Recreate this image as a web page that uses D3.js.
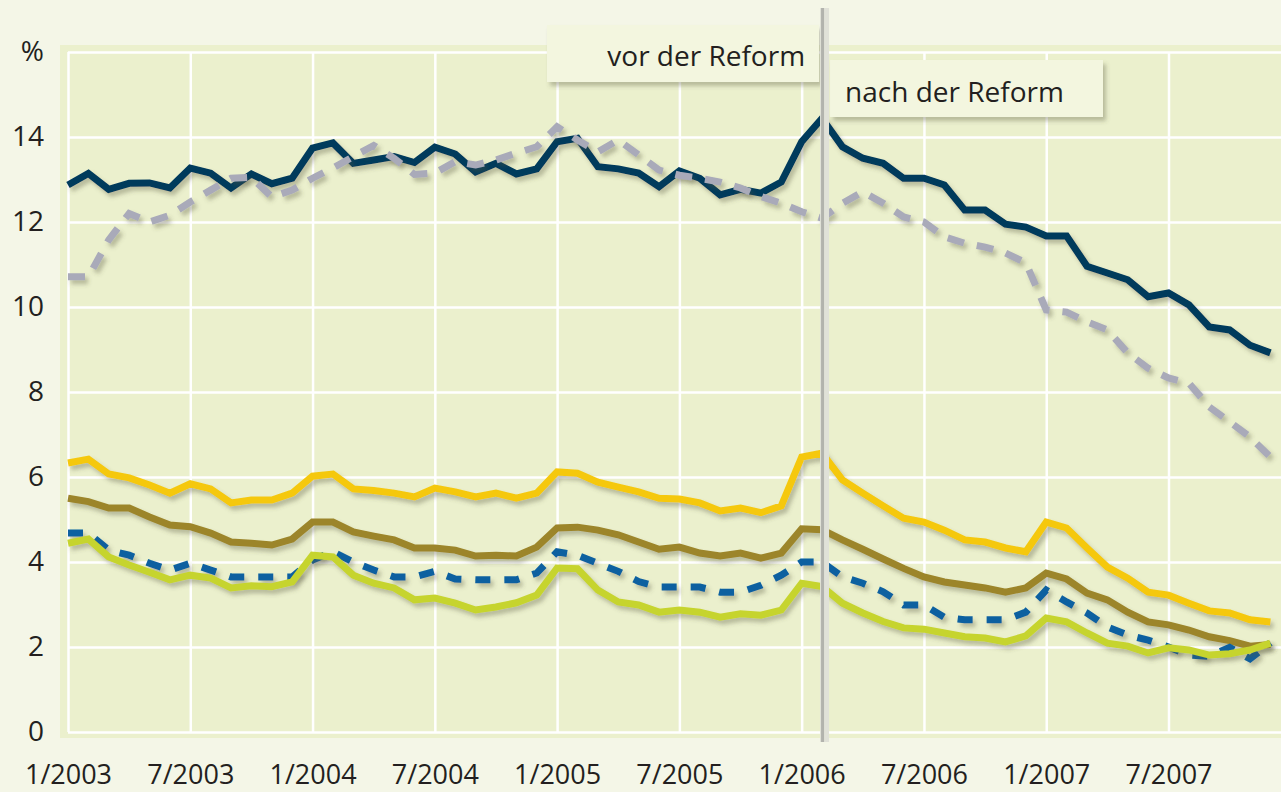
<!DOCTYPE html>
<html>
<head>
<meta charset="utf-8">
<script src="https://cdn.jsdelivr.net/npm/d3@7"></script>
<style>
  body { margin: 0; background: #f4f6e7; }
  svg { display: block; font-family: "Open Sans", sans-serif; }
</style>
</head>
<body>
<svg id="chart"></svg>
<script>
// months 1/2003 .. 12/2007 (index 0..59)
const months = d3.range(60);
const tickMonths = [0, 6, 12, 18, 24, 30, 36, 42, 48, 54];
const tickLabels = ["1/2003", "7/2003", "1/2004", "7/2004", "1/2005", "7/2005", "1/2006", "7/2006", "1/2007", "7/2007"];
const yTicks = [0, 2, 4, 6, 8, 10, 12, 14, 16];
const reformMonth = 37; // 2/2006
const labelBefore = "vor der Reform";
const labelAfter = "nach der Reform";

// series values in %
const navySeries = [12.87, 13.14, 12.77, 12.91, 12.92, 12.8, 13.27, 13.15, 12.8, 13.13,
  12.9, 13.03, 13.74, 13.86, 13.38, 13.46, 13.54, 13.4, 13.76, 13.6,
  13.18, 13.38, 13.13, 13.25, 13.89, 13.97, 13.3, 13.25, 13.15, 12.83,
  13.2, 13.03, 12.64, 12.77, 12.68, 12.94, 13.89, 14.44, 13.77, 13.5,
  13.38, 13.03, 13.03, 12.87, 12.28, 12.28, 11.95, 11.88, 11.67, 11.67,
  10.96, 10.8, 10.64, 10.24, 10.33, 10.05, 9.53, 9.46, 9.1, 8.92];

const graySeries = [10.71, 10.71, 11.58, 12.2, 12.0, 12.16, 12.47, 12.75, 13.03, 13.05,
  12.59, 12.75, 13.03, 13.27, 13.54, 13.8, 13.5, 13.12, 13.15, 13.42,
  13.34, 13.46, 13.62, 13.77, 14.24, 13.93, 13.65, 13.93, 13.58, 13.22,
  13.1, 13.03, 12.94, 12.8, 12.6, 12.44, 12.24, 12.09, 12.44, 12.71,
  12.44, 12.12, 12.0, 11.65, 11.5, 11.41, 11.27, 11.04, 9.93, 9.88,
  9.65, 9.46, 8.92, 8.56, 8.33, 8.21, 7.65, 7.3, 6.94, 6.47];

const yellowSeries = [6.33, 6.42, 6.07, 5.98, 5.81, 5.62, 5.84, 5.72, 5.39, 5.46,
  5.46, 5.62, 6.02, 6.07, 5.72, 5.68, 5.62, 5.53, 5.74, 5.65,
  5.53, 5.62, 5.5, 5.62, 6.12, 6.09, 5.88, 5.76, 5.65, 5.5,
  5.48, 5.39, 5.2, 5.27, 5.16, 5.32, 6.47, 6.56, 5.93, 5.62,
  5.32, 5.03, 4.94, 4.75, 4.52, 4.47, 4.33, 4.24, 4.94, 4.8,
  4.33, 3.88, 3.62, 3.29, 3.22, 3.03, 2.85, 2.8, 2.64, 2.59];

const oliveSeries = [5.5, 5.42, 5.27, 5.27, 5.06, 4.87, 4.83, 4.68, 4.47, 4.44,
  4.4, 4.54, 4.94, 4.94, 4.71, 4.61, 4.52, 4.33, 4.33, 4.28,
  4.14, 4.16, 4.14, 4.35, 4.8, 4.82, 4.75, 4.64, 4.47, 4.3,
  4.35, 4.21, 4.14, 4.21, 4.09, 4.21, 4.78, 4.76, 4.52, 4.3,
  4.07, 3.85, 3.65, 3.53, 3.46, 3.39, 3.29, 3.39, 3.74, 3.6,
  3.27, 3.11, 2.82, 2.59, 2.52, 2.4, 2.24, 2.15, 2.02, 2.06];

const blueSeries = [4.68, 4.68, 4.28, 4.16, 3.97, 3.81, 3.97, 3.81, 3.65, 3.65,
  3.65, 3.65, 4.05, 4.24, 4.0, 3.81, 3.65, 3.65, 3.78, 3.6,
  3.58, 3.58, 3.58, 3.74, 4.24, 4.16, 3.97, 3.78, 3.54, 3.41,
  3.41, 3.41, 3.29, 3.29, 3.45, 3.69, 4.0, 4.0, 3.65, 3.5,
  3.3, 2.99, 2.99, 2.7, 2.64, 2.64, 2.64, 2.82, 3.34, 3.06,
  2.8, 2.47, 2.28, 2.16, 2.0, 1.81, 1.78, 1.99, 1.72, 2.1];

const limeSeries = [4.44, 4.54, 4.12, 3.93, 3.76, 3.58, 3.69, 3.62, 3.39, 3.44,
  3.42, 3.53, 4.16, 4.12, 3.69, 3.5, 3.39, 3.11, 3.15, 3.03,
  2.87, 2.94, 3.04, 3.22, 3.86, 3.84, 3.34, 3.06, 2.99, 2.82,
  2.87, 2.82, 2.7, 2.78, 2.75, 2.87, 3.5, 3.42, 3.03, 2.8,
  2.6, 2.45, 2.42, 2.33, 2.24, 2.21, 2.12, 2.26, 2.68, 2.59,
  2.33, 2.09, 2.02, 1.86, 1.98, 1.93, 1.81, 1.84, 1.93, 2.09];

// drawing order + style
const series = [
  { values: navySeries, color: "#003a5c", dash: null },
  { values: graySeries, color: "#a9aab9", dash: "17,13" },
  { values: yellowSeries, color: "#f5c80f", dash: null },
  { values: oliveSeries, color: "#9c852a", dash: null },
  { values: blueSeries, color: "#0a61a0", dash: "15,14" },
  { values: limeSeries, color: "#c6d42f", dash: null }
];

const W = 1281, H = 792;
const svg = d3.select("#chart").attr("width", W).attr("height", H);

const x = d3.scaleLinear().domain([0, 59]).range([68, 1270.4]);
const y = d3.scaleLinear().domain([0, 16]).range([732, 52]);

// shadow filter
const defs = svg.append("defs");
defs.append("filter")
    .attr("id", "shadow")
    .attr("filterUnits", "userSpaceOnUse")
    .attr("x", 0).attr("y", 0).attr("width", W).attr("height", H)
  .append("feDropShadow")
    .attr("dx", 3).attr("dy", 4)
    .attr("stdDeviation", 2)
    .attr("flood-color", "#55553a")
    .attr("flood-opacity", 0.35);

// background
svg.append("rect").attr("width", W).attr("height", H).attr("fill", "#f4f6e7");
svg.append("rect")
    .attr("x", 60).attr("y", 45)
    .attr("width", W - 60).attr("height", 738 - 45)
    .attr("fill", "#ebf0cd");

// gridlines
svg.append("g")
    .attr("class", "grid-y")
    .attr("transform", `translate(${x(0)},0)`)
    .call(d3.axisLeft(y).tickValues(yTicks).tickSize(-(W - x(0))).tickFormat(""))
    .call(g => g.select(".domain").remove())
    .selectAll("line").attr("stroke", "#fff").attr("stroke-width", 2.5);

svg.append("g")
    .attr("class", "grid-x")
    .attr("transform", `translate(0,${y(0)})`)
    .call(d3.axisBottom(x).tickValues(tickMonths).tickSize(-(y(0) - y(16))).tickFormat(""))
    .call(g => g.select(".domain").remove())
    .selectAll("line").attr("stroke", "#fff").attr("stroke-width", 2.5);

// axis labels
const yAxis = svg.append("g")
    .attr("transform", "translate(44,0)")
    .call(d3.axisLeft(y).tickValues(yTicks).tickSize(0).tickPadding(0)
      .tickFormat(d => d === 16 ? "%" : d));
yAxis.select(".domain").remove();
yAxis.selectAll("text")
    .attr("font-size", 28).attr("fill", "#231f20")
    .style("font-family", "'Open Sans', sans-serif");

const xAxis = svg.append("g")
    .attr("transform", "translate(0,765)")
    .call(d3.axisBottom(x).tickValues(tickMonths).tickSize(0).tickPadding(0)
      .tickFormat((d, i) => tickLabels[i]));
xAxis.select(".domain").remove();
xAxis.selectAll("text")
    .attr("font-size", 27).attr("fill", "#231f20")
    .style("font-family", "'Open Sans', sans-serif");

// lines
const line = d3.line()
    .x((d, i) => x(months[i]))
    .y(d => y(d));

svg.append("g").selectAll("path")
    .data(series)
    .enter()
    .append("path")
    .attr("d", d => line(d.values))
    .attr("fill", "none")
    .attr("stroke", d => d.color)
    .attr("stroke-width", 7)
    .attr("stroke-linejoin", "miter")
    .attr("stroke-dasharray", d => d.dash)
    .attr("filter", "url(#shadow)");

// reform marker
const rx = x(reformMonth);

svg.append("rect")
    .attr("x", 547).attr("y", 25)
    .attr("width", rx - 3 - 547).attr("height", 57)
    .attr("fill", "#f3f6df")
    .attr("filter", "url(#shadow)");
svg.append("text")
    .attr("x", rx - 17).attr("y", 66)
    .attr("text-anchor", "end")
    .attr("font-size", 28).attr("fill", "#231f20")
    .text(labelBefore);

svg.append("rect")
    .attr("x", rx + 8).attr("y", 60)
    .attr("width", 1103 - rx - 8).attr("height", 57)
    .attr("fill", "#f3f6df")
    .attr("filter", "url(#shadow)");
svg.append("text")
    .attr("x", rx + 23).attr("y", 102)
    .attr("font-size", 28).attr("fill", "#231f20")
    .text(labelAfter);

svg.append("rect")
    .attr("x", rx - 2).attr("y", 8)
    .attr("width", 9).attr("height", 742 - 8)
    .attr("fill", "#e0e1d8");
svg.append("rect")
    .attr("x", rx - 1).attr("y", 8)
    .attr("width", 3).attr("height", 742 - 8)
    .attr("fill", "#b2b3ad");
</script>
</body>
</html>
